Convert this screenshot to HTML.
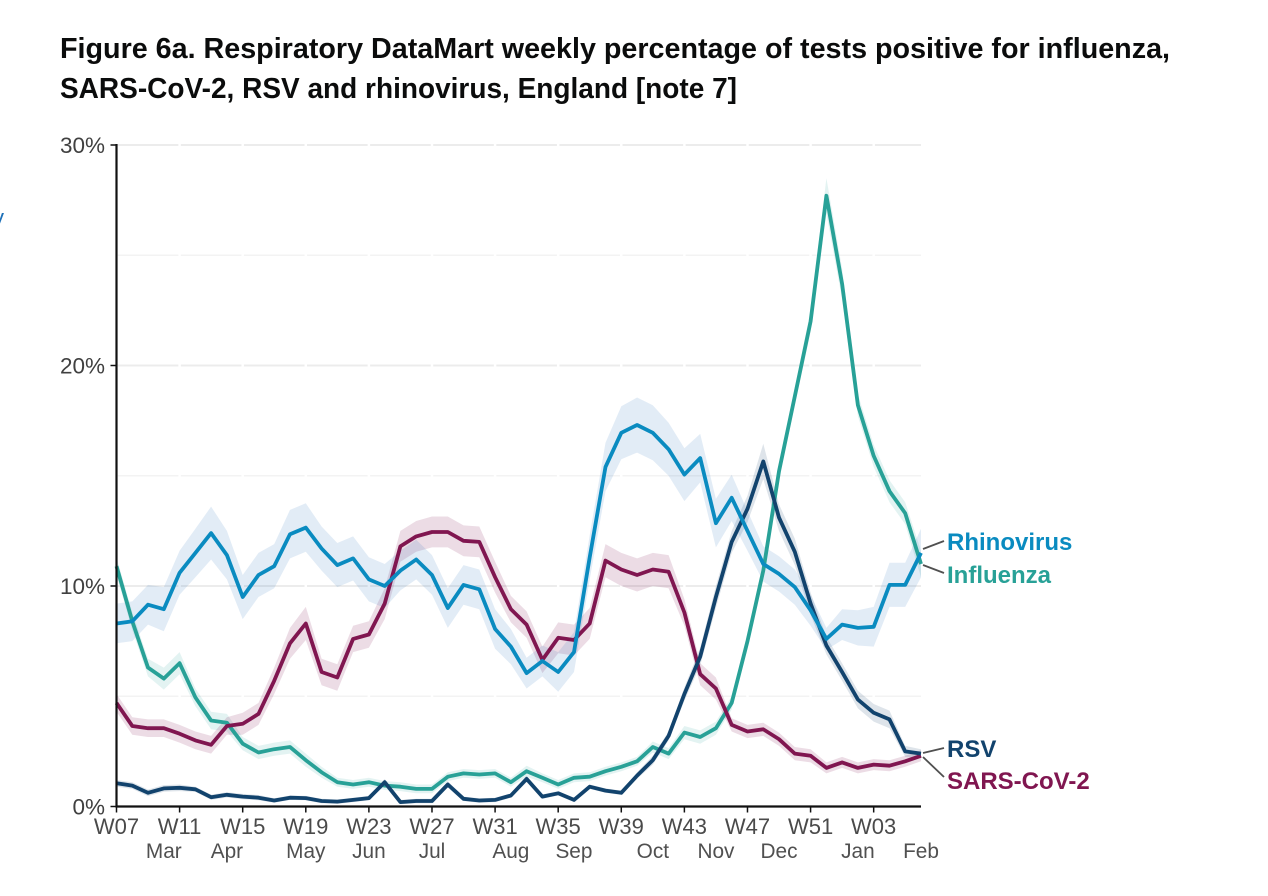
<!DOCTYPE html>
<html lang="en">
<head>
<meta charset="utf-8">
<title>Figure 6a. Respiratory DataMart weekly percentage of tests positive</title>
<style>
  html, body { margin: 0; padding: 0; background: #fff; width: 1268px; height: 896px; overflow: hidden; }
  svg { display: block; font-family: "Liberation Sans", Arial, sans-serif; }
</style>
</head>
<body>
<svg id="chart" width="1268" height="896" viewBox="0 0 1268 896" xmlns="http://www.w3.org/2000/svg">
  <rect x="0" y="0" width="1268" height="896" fill="#ffffff"/>
  <text x="60" y="58" font-size="29" font-weight="700" fill="#0b0c0c" textLength="1110" lengthAdjust="spacingAndGlyphs">Figure 6a. Respiratory DataMart weekly percentage of tests positive for influenza,</text>
  <text x="60" y="98" font-size="29" font-weight="700" fill="#0b0c0c" textLength="677" lengthAdjust="spacingAndGlyphs">SARS-CoV-2, RSV and rhinovirus, England [note 7]</text>
  <text x="-7" y="225" font-size="22" fill="#1d70b8">y</text>
  <g id="grid"></g>
  <g id="bands"></g>
  <g id="lines"></g>
  <g id="axes"></g>
  <g id="labels"></g>
</svg>
<script>
var weeks = ["W07","W08","W09","W10","W11","W12","W13","W14","W15","W16","W17","W18","W19",
  "W20","W21","W22","W23","W24","W25","W26","W27","W28","W29","W30","W31","W32",
  "W33","W34","W35","W36","W37","W38","W39","W40","W41","W42","W43","W44","W45",
  "W46","W47","W48","W49","W50","W51","W52","W01","W02","W03","W04","W05","W06"];
var weekTickLabels = ["W07","W11","W15","W19","W23","W27","W31","W35","W39","W43","W47","W51","W03"];
var monthLabels = ["Mar","Apr","May","Jun","Jul","Aug","Sep","Oct","Nov","Dec","Jan","Feb"];
var monthWeeks = ["W10","W14","W19","W23","W27","W32","W36","W41","W45","W49","W02","W06"];
var yTickValues = [0,10,20,30];
var yGridValues = [0,5,10,15,20,25,30];

var influenza = [10.9,8.4,6.3,5.8,6.5,4.95,3.9,3.8,2.85,2.45,2.6,2.7,2.1,
  1.55,1.1,1.0,1.1,0.95,0.9,0.8,0.8,1.35,1.5,1.45,1.5,1.1,
  1.6,1.3,1.0,1.3,1.35,1.6,1.8,2.05,2.7,2.4,3.35,3.15,3.55,
  4.7,7.5,10.7,15.2,18.6,22.0,27.7,23.7,18.2,15.9,14.3,13.3,11.0];
var sarsCov2 = [4.7,3.65,3.55,3.55,3.3,3.0,2.8,3.65,3.75,4.2,5.7,7.4,8.3,
  6.1,5.85,7.6,7.8,9.2,11.8,12.25,12.45,12.45,12.05,12.0,10.4,8.95,
  8.25,6.65,7.65,7.55,8.3,11.15,10.75,10.5,10.75,10.65,8.8,6.0,5.35,
  3.7,3.4,3.5,3.05,2.4,2.3,1.75,2.0,1.75,1.9,1.85,2.05,2.3];
var rsv = [1.05,0.95,0.62,0.82,0.85,0.78,0.42,0.53,0.45,0.4,0.27,0.4,0.38,
  0.25,0.22,0.3,0.38,1.1,0.2,0.25,0.25,1.0,0.35,0.27,0.3,0.5,
  1.25,0.45,0.6,0.3,0.9,0.72,0.62,1.4,2.1,3.2,5.1,6.8,9.5,
  12.0,13.5,15.65,13.1,11.55,9.2,7.3,6.1,4.85,4.25,3.95,2.5,2.4];
var rhinovirus = [8.3,8.4,9.15,8.95,10.6,11.5,12.4,11.4,9.5,10.5,10.9,12.35,12.65,
  11.7,10.95,11.25,10.3,10.0,10.7,11.2,10.5,9.0,10.05,9.85,8.05,7.25,
  6.05,6.6,6.1,7.0,11.3,15.4,16.95,17.3,16.95,16.2,15.05,15.8,12.85,
  14.0,12.5,11.0,10.55,9.95,8.9,7.6,8.25,8.1,8.15,10.05,10.05,11.5];

var influenzaBand = [0.4,0.4,0.4,0.5,0.5,0.4,0.4,0.4,0.3,0.3,0.3,0.3,0.3,
  0.25,0.2,0.2,0.2,0.2,0.2,0.2,0.2,0.2,0.2,0.2,0.2,0.2,
  0.25,0.2,0.2,0.2,0.2,0.2,0.2,0.2,0.25,0.25,0.3,0.3,0.3,
  0.3,0.3,0.3,0.3,0.4,0.5,0.8,0.7,0.5,0.5,0.5,0.5,0.6];
var sarsCov2Band = [0.4,0.4,0.4,0.4,0.4,0.4,0.4,0.4,0.5,0.5,0.6,0.7,0.75,
  0.6,0.6,0.6,0.6,0.7,0.7,0.7,0.7,0.7,0.7,0.7,0.7,0.6,
  0.6,0.6,0.7,0.7,0.7,0.75,0.75,0.75,0.75,0.75,0.6,0.5,0.5,
  0.3,0.3,0.3,0.3,0.3,0.3,0.25,0.25,0.25,0.25,0.25,0.25,0.25];
var rsvBand = [0.15,0.15,0.15,0.15,0.15,0.12,0.12,0.12,0.12,0.12,0.1,0.1,0.1,
  0.1,0.1,0.1,0.1,0.15,0.1,0.1,0.1,0.15,0.1,0.1,0.1,0.1,
  0.15,0.1,0.1,0.1,0.1,0.1,0.1,0.15,0.2,0.2,0.3,0.4,0.5,
  0.5,0.6,0.8,0.6,0.6,0.5,0.4,0.4,0.4,0.4,0.4,0.25,0.2];
var rhinovirusBand = [0.9,0.9,0.9,1,1,1.1,1.2,1.1,1,1,1,1.1,1.1,
  1,1,1,1,1,0.9,0.9,0.9,0.9,0.9,0.9,0.9,0.8,
  0.7,0.7,0.9,0.9,1,1.1,1.2,1.25,1.25,1.2,1.2,1.1,1.1,
  1.05,0.9,0.8,0.8,0.8,0.7,0.5,0.7,0.8,0.9,1,1,1.1];

var NS = 'http://www.w3.org/2000/svg';
var plotLeft = 116.5, plotRight = 921, plotTop = 145, plotBottom = 806.5, yMax = 30;
function xPos(i) { return plotLeft + i * (plotRight - plotLeft) / (weeks.length - 1); }
function yPos(v) { return plotBottom - v * (plotBottom - plotTop) / yMax; }
function make(tag, parent, attrs, text) {
  var el = document.createElementNS(NS, tag);
  for (var k in attrs) { el.setAttribute(k, attrs[k]); }
  if (text !== undefined) { el.textContent = text; }
  parent.appendChild(el);
  return el;
}
var grid = document.getElementById('grid');
var bands = document.getElementById('bands');
var lines = document.getElementById('lines');
var axes = document.getElementById('axes');

yGridValues.forEach(function (v) {
  if (v === 0) { return; }
  var el = make('line', grid, {x1: plotLeft, x2: plotRight, y1: yPos(v), y2: yPos(v), stroke: v % 10 === 0 ? '#ececec' : '#f3f3f3', 'stroke-width': v % 10 === 0 ? 2 : 1.5});
  
  
});
weekTickLabels.forEach(function (w) {
  var el = make('line', grid, {x1: xPos(weeks.indexOf(w)), x2: xPos(weeks.indexOf(w)), y1: plotTop - 2, y2: plotBottom, stroke: '#ffffff', 'stroke-width': 2.5});
  
  
});

function drawSeries(name, values, band, lineColor, bandColor) {
  var up = [], down = [], pts = [];
  values.forEach(function (v, i) {
    pts.push(xPos(i).toFixed(1) + ',' + yPos(v).toFixed(1));
    up.push(xPos(i).toFixed(1) + ',' + yPos(v + band[i]).toFixed(1));
    down.unshift(xPos(i).toFixed(1) + ',' + yPos(Math.max(0, v - band[i])).toFixed(1));
  });
  var b = make('polygon', bands, {points: up.concat(down).join(' '), fill: bandColor});
  
  
  var l = make('polyline', lines, {points: pts.join(' '), fill: 'none', stroke: lineColor, 'stroke-width': 3.8, 'stroke-linejoin': 'round'});
  
  
}
drawSeries('influenza', influenza, influenzaBand, '#28a197', 'rgba(40,161,151,0.13)');
drawSeries('sars-cov-2', sarsCov2, sarsCov2Band, '#801650', 'rgba(128,22,80,0.15)');
drawSeries('rsv', rsv, rsvBand, '#12436d', 'rgba(18,67,109,0.14)');
drawSeries('rhinovirus', rhinovirus, rhinovirusBand, '#0a8bc0', 'rgba(29,112,184,0.13)');

var yAxis = make('line', axes, {x1: plotLeft, x2: plotLeft, y1: plotTop - 1, y2: plotBottom + 1, stroke: '#111', 'stroke-width': 2.2});


var xAxis = make('line', axes, {x1: plotLeft - 1, x2: plotRight, y1: plotBottom, y2: plotBottom, stroke: '#111', 'stroke-width': 2.2});



yTickValues.forEach(function (v) {
  var t = make('line', axes, {x1: plotLeft - 6, x2: plotLeft, y1: yPos(v), y2: yPos(v), stroke: '#111', 'stroke-width': 1.5});
  
  
  var s = make('text', axes, {x: 105, y: yPos(v) + 8, 'text-anchor': 'end', 'font-size': 22.5, fill: '#404040'}, v + '%');
  
  
});
weekTickLabels.forEach(function (w) {
  var i = weeks.indexOf(w);
  var t = make('line', axes, {x1: xPos(i), x2: xPos(i), y1: plotBottom, y2: plotBottom + 6, stroke: '#111', 'stroke-width': 1.5});
  
  
  var s = make('text', axes, {x: xPos(i), y: 834, 'text-anchor': 'middle', 'font-size': 22, fill: '#4a4a4a'}, w);
  
  
});
monthLabels.forEach(function (m, k) {
  var i = weeks.indexOf(monthWeeks[k]);
  var s = make('text', axes, {x: xPos(i), y: 858, 'text-anchor': 'middle', 'font-size': 20.8, fill: '#505050'}, m);
  
  
});

var labelGroup = document.getElementById('labels');
function seriesLabel(name, text, baseline, color, x1, y1, x2, y2) {
  var c = make('line', labelGroup, {x1: x1, y1: y1, x2: x2, y2: y2, stroke: '#505050', 'stroke-width': 1.8});
  
  
  var s = make('text', labelGroup, {x: 947, y: baseline, 'font-size': 24, 'font-weight': 700, fill: color}, text);
  
  
}
seriesLabel('rhinovirus', 'Rhinovirus', 550, '#0a8bc0', 923, 549, 944, 541);
seriesLabel('influenza', 'Influenza', 583, '#28a197', 923, 565, 944, 573);
seriesLabel('rsv', 'RSV', 757, '#12436d', 923, 753, 944, 748);
seriesLabel('sars-cov-2', 'SARS-CoV-2', 789, '#801650', 923, 757, 944, 777);
</script>
</body>
</html>
